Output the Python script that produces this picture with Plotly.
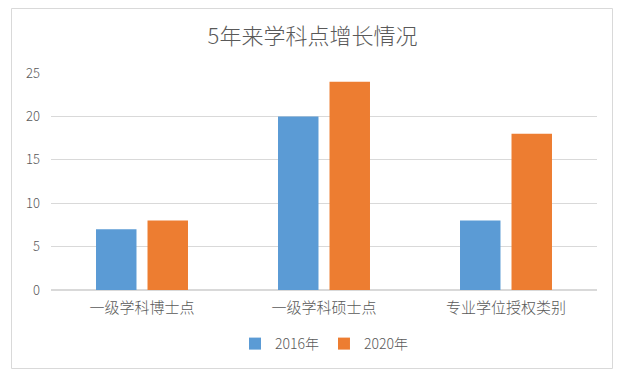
import plotly.graph_objects as go

categories = ["一级学科博士点", "一级学科硕士点", "专业学位授权类别"]
series_names = ["2016年", "2020年"]
values_2016 = [7, 20, 8]
values_2020 = [8, 24, 18]
colors = ["#5B9BD5", "#ED7D31"]

W, H = 625, 379
L, R, T, B = 51, 28, 73, 89
pw, ph = W - L - R, H - T - B

def px_x(x):
    return (x - L) / pw

def px_y(y):
    return (H - B - y) / ph

fig = go.Figure()
for name, vals, c in zip(series_names, [values_2016, values_2020], colors):
    fig.add_trace(go.Bar(x=categories, y=vals, name=name, marker_color=c, marker_line_width=0))

font = "Noto Sans CJK SC, Microsoft YaHei, sans-serif"
fig.update_layout(
    width=W, height=H,
    margin=dict(l=L, r=R, t=T, b=B),
    paper_bgcolor="white", plot_bgcolor="white",
    barmode="group", bargap=0.434, bargroupgap=0.214,
    font=dict(family=font, color="#595959", size=12, weight=300),
    title=dict(text="5年来学科点增长情况", x=0.5, xanchor="center", y=1 - 36 / H, yanchor="middle",
               font=dict(size=22, color="#595959", family=font, weight=300)),
    xaxis=dict(showgrid=False, showline=True, linecolor="#D9D9D9", linewidth=1,
               tickfont=dict(size=15, color="#595959", weight=300), ticks="", ticklabelstandoff=4),
    yaxis=dict(range=[0, 25], dtick=5, showgrid=True, gridcolor="#D9D9D9", gridwidth=1,
               zeroline=True, zerolinecolor="#D9D9D9", showline=False,
               tickfont=dict(size=13, color="#595959", weight=300), ticklabelstandoff=10),
    legend=dict(orientation="h", x=0.5, xanchor="center", y=px_y(344), yanchor="middle",
                font=dict(size=14, color="#595959", weight=300), itemwidth=30),
    shapes=[dict(type="rect", xref="paper", yref="paper",
                 x0=px_x(11.5), x1=px_x(612.5), y0=px_y(368.5), y1=px_y(8.5),
                 line=dict(color="#D9D9D9", width=1), layer="below")],
)

fig.write_html("out.html", config={"displayModeBar": False},
               post_script="document.body.style.margin='0';document.body.style.padding='0';")
